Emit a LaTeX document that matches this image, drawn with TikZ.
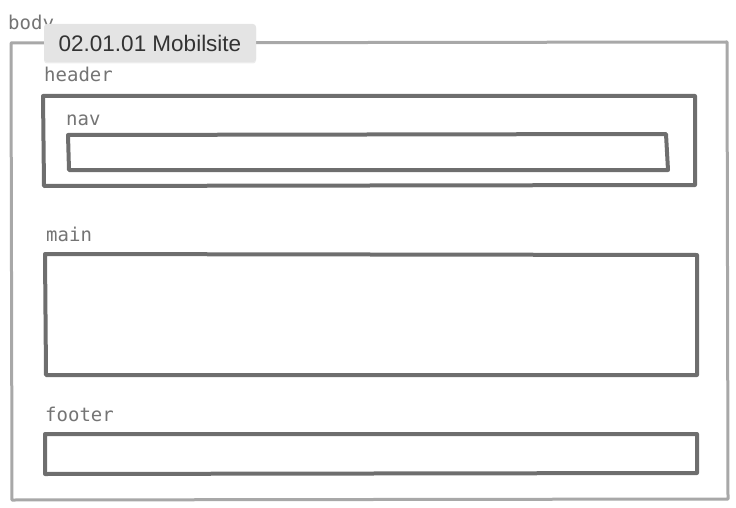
\documentclass[tikz,border=0pt]{standalone}
\usepackage{fontspec}
\setmainfont{Liberation Sans}
\setmonofont{DejaVu Sans Mono}
\usetikzlibrary{shadows}
\definecolor{bodygray}{HTML}{A8A8A8}
\definecolor{boxgray}{HTML}{6E6E6E}
\definecolor{labelgray}{HTML}{747474}
\definecolor{tipgray}{HTML}{E4E4E4}
\tikzset{
  bodyline/.style={draw=bodygray, line width=3pt, line cap=round, line join=round},
  boxline/.style={draw=boxgray, line width=4pt, line cap=round, line join=round},
  tag/.style={anchor=base west, inner sep=0pt, text=labelgray, font=\ttfamily\fontsize{19}{19}\selectfont}
}
\begin{document}
\begin{tikzpicture}[x=1pt,y=-1pt]
\useasboundingbox (0,0) rectangle (736,508);
% body
\draw[bodyline] (11,43) -- (727,42) -- (728,499) -- (12,500) -- cycle;
\node[tag] (bodylab) at (8,30) {body};
% header
\node[tag] (headerlab) at (44,82) {header};
\draw[boxline] (43,96) -- (695,96) -- (695,185) -- (44,186) -- cycle;
% nav
\node[tag] (navlab) at (66,126) {nav};
\draw[boxline] (68,135) -- (666,134) -- (668,170) -- (69,170) -- cycle;
% main
\node[tag] (mainlab) at (46,241) {main};
\draw[boxline] (45,254) -- (697,255) -- (697,375) -- (46,375) -- cycle;
% footer
\node[tag] (footerlab) at (45,421) {footer};
\draw[boxline] (45,434) -- (697,434) -- (697,473) -- (45,474) -- cycle;
% tooltip
\node[fill=tipgray, rounded corners=3pt, minimum width=212pt, minimum height=38pt,
  inner sep=0pt, drop shadow={shadow xshift=0pt, shadow yshift=-1.5pt, opacity=0.15},
  font=\fontsize{22.5}{22.5}\selectfont, text=black!80] (tip) at (150,43) {02.01.01 Mobilsite};
\end{tikzpicture}
\end{document}
